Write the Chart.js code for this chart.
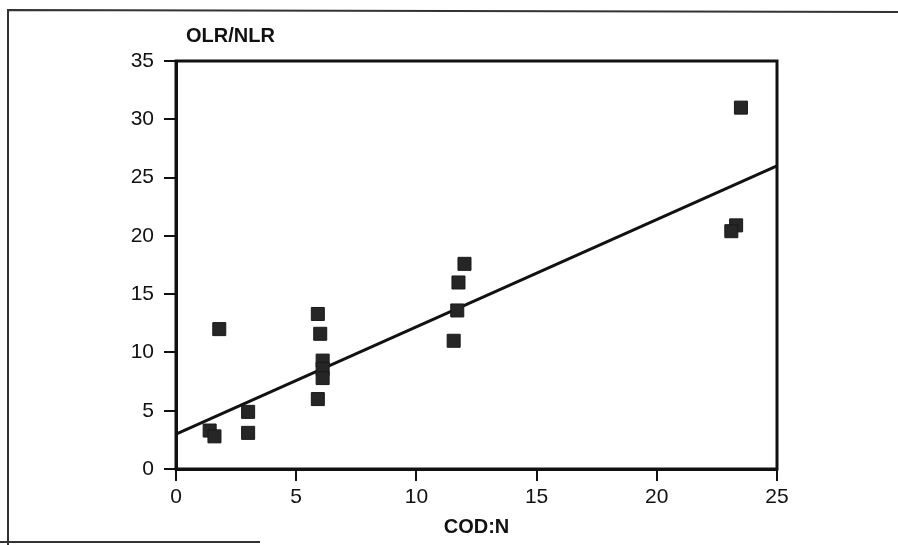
<!DOCTYPE html>
<html>
<head>
<meta charset="utf-8">
<script src="https://cdn.jsdelivr.net/npm/chart.js@4/dist/chart.umd.min.js"></script>
<style>
  html, body { margin: 0; padding: 0; background: #fff; }
  #wrap { position: relative; width: 898px; height: 545px; }
</style>
</head>
<body>
<div id="wrap"><canvas id="chart" width="898" height="545"></canvas></div>
<script>
// COD:N (x) and OLR/NLR (y)
var codN   = [1.8, 1.4, 1.6, 3.0, 3.0, 5.9, 6.0, 6.1, 6.1, 6.1, 5.9, 12.0, 11.75, 11.7, 11.55, 23.5, 23.3, 23.1];
var olrNlr = [12.0, 3.3, 2.8, 4.9, 3.1, 13.3, 11.6, 9.3, 8.6, 7.8, 6.0, 17.6, 16.0, 13.6, 11.0, 31.0, 20.9, 20.4];

// fitted line end points
var fitX = [0, 25];
var fitY = [3, 26];

var xTicks = [0, 5, 10, 15, 20, 25];
var yTicks = [0, 5, 10, 15, 20, 25, 30, 35];

var FONT = "'Liberation Sans', Arial, sans-serif";

function toPoints(xs, ys) {
    return xs.map(function (x, i) { return { x: x, y: ys[i] }; });
}

// thick box round the plot area
var boxPlugin = {
    id: 'box',
    afterDraw: function (chart) {
        var a = chart.chartArea, ctx = chart.ctx;
        ctx.save();
        ctx.strokeStyle = '#111';
        ctx.lineWidth = 3;
        ctx.strokeRect(a.left, a.top, a.right - a.left, a.bottom - a.top);
        ctx.restore();
    }
};

// scan frame and the y title over the axis
var framePlugin = {
    id: 'frame',
    beforeDraw: function (chart) {
        var ctx = chart.ctx;
        ctx.save();
        ctx.strokeStyle = '#333';
        ctx.lineWidth = 2;
        ctx.beginPath();
        ctx.moveTo(8, 545);
        ctx.lineTo(8, 10);
        ctx.lineTo(898, 12);
        ctx.moveTo(0, 542);
        ctx.lineTo(260, 542);
        ctx.stroke();
        ctx.restore();
    },
    afterDraw: function (chart) {
        var ctx = chart.ctx;
        ctx.save();
        ctx.fillStyle = '#111';
        ctx.font = 'bold 20px ' + FONT;
        ctx.textBaseline = 'middle';
        ctx.fillText('OLR/NLR', 186, 36);
        ctx.restore();
    }
};

new Chart(document.getElementById('chart'), {
    type: 'scatter',
    data: {
        datasets: [{
            data: toPoints(codN, olrNlr),
            pointStyle: 'rect',
            pointRadius: 9.2,
            pointHoverRadius: 9.2,
            backgroundColor: '#262626',
            borderColor: '#1a1a1a',
            borderWidth: 1,
        }, {
            type: 'line',
            data: toPoints(fitX, fitY),
            borderColor: '#111',
            borderWidth: 3,
            pointRadius: 0,
            fill: false,
        }],
    },
    options: {
        responsive: false,
        animation: false,
        layout: { padding: { left: 0, top: 61, right: 121, bottom: 0 } },
        plugins: { legend: { display: false }, tooltip: { enabled: false } },
        scales: {
            x: {
                type: 'linear',
                min: 0,
                max: 25,
                afterBuildTicks: function (axis) {
                    axis.ticks = xTicks.map(function (v) { return { value: v }; });
                },
                afterFit: function (axis) { axis.height = 76; },
                grid: { drawOnChartArea: false, drawTicks: true, tickLength: 12, color: '#111', lineWidth: 2 },
                border: { color: '#111', width: 3 },
                ticks: { color: '#111', padding: 4, font: { family: FONT, size: 21 }, maxRotation: 0 },
                title: {
                    display: true,
                    text: 'COD:N',
                    color: '#111',
                    font: { family: FONT, size: 20, weight: 'bold' },
                    padding: { top: 0, bottom: 6 },
                },
            },
            y: {
                min: 0,
                max: 35,
                afterBuildTicks: function (axis) {
                    axis.ticks = yTicks.map(function (v) { return { value: v }; });
                },
                afterFit: function (axis) { axis.width = 176; },
                grid: { drawOnChartArea: false, drawTicks: true, tickLength: 12, color: '#111', lineWidth: 2 },
                border: { color: '#111', width: 3 },
                ticks: { color: '#111', padding: 10, font: { family: FONT, size: 21 } },
            },
        },
    },
    plugins: [framePlugin, boxPlugin],
});
</script>
</body>
</html>
